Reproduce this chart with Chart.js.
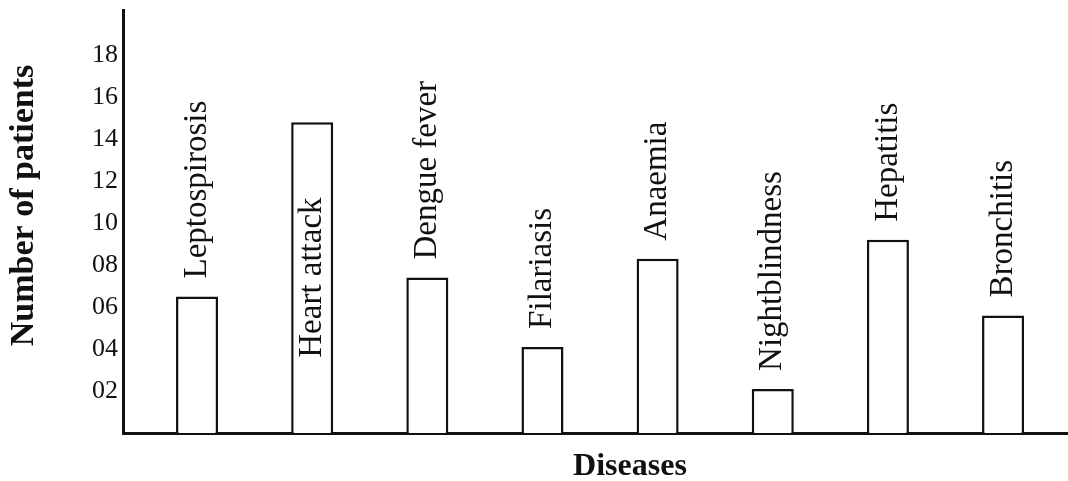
<!DOCTYPE html>
<html><head><meta charset="utf-8">
<script src="https://cdn.jsdelivr.net/npm/chart.js@4/dist/chart.umd.min.js"></script>
<style>html,body{margin:0;padding:0;background:#fff}#wrap{width:1068px;height:481px}</style>
</head><body><div id="wrap"><canvas id="c" width="1068" height="481"></canvas></div>
<script>
const diseases = ['Leptospirosis','Heart attack','Dengue fever','Filariasis','Anaemia','Nightblindness','Hepatitis','Bronchitis'];
const patients = [6.5, 14.8, 7.4, 4.1, 8.3, 2.1, 9.2, 5.6];
const yTickValues = [2, 4, 6, 8, 10, 12, 14, 16, 18];
const yTitle = 'Number of patients';
const xTitle = 'Diseases';

const serif = '"Liberation Serif", "Times New Roman", serif';
const ink = '#111';

const labelPlugin = {
  id: 'barLabels',
  afterDatasetsDraw(chart) {
    const ctx = chart.ctx, area = chart.chartArea;
    const meta = chart.getDatasetMeta(0);
    ctx.save();
    ctx.fillStyle = ink;
    ctx.font = '33px ' + serif;
    ctx.textBaseline = 'middle';
    ctx.textAlign = 'left';
    meta.data.forEach((bar, i) => {
      const text = diseases[i];
      const w = ctx.measureText(text).width;
      let start = bar.y - 18;
      if (start - w < area.top) start = (bar.y + bar.base) / 2 + w / 2;
      ctx.save();
      ctx.translate(bar.x, start);
      ctx.rotate(-Math.PI / 2);
      ctx.fillText(text, 0, 0);
      ctx.restore();
    });
    // axis titles
    ctx.font = 'bold 34px ' + serif;
    ctx.textAlign = 'center';
    ctx.textBaseline = 'middle';
    ctx.save();
    ctx.translate(24, (area.top + area.bottom) / 2 - 16);
    ctx.rotate(-Math.PI / 2);
    ctx.fillText(yTitle, 0, 0);
    ctx.restore();
    ctx.font = 'bold 32px ' + serif;
    ctx.textBaseline = 'alphabetic';
    ctx.fillText(xTitle, area.left + 507, area.bottom + 42);
    ctx.restore();
  }
};

new Chart(document.getElementById('c'), {
  type: 'bar',
  data: {
    datasets: [{
      label: yTitle,
      data: diseases.map((d, i) => ({ x: i, y: patients[i] })),
      backgroundColor: '#ffffff',
      borderColor: ink,
      borderWidth: 2.5,
      barPercentage: 0.365,
      categoryPercentage: 1
    }]
  },
  options: {
    responsive: false,
    animation: false,
    devicePixelRatio: 1,
    layout: { padding: { top: 10, left: 0, right: 0, bottom: 0 } },
    plugins: { legend: { display: false }, tooltip: { enabled: false } },
    scales: {
      x: {
        type: 'linear',
        offset: false,
        min: -0.643,
        max: 7.564,
        grid: { display: false, drawTicks: false, offset: false },
        afterBuildTicks: s => { s.ticks = diseases.map((d, i) => ({ value: i })); },
        ticks: { display: false },
        border: { display: true, color: ink, width: 3 },
        afterFit: s => { s.height = 48; s.paddingLeft = 0; s.paddingRight = 0; }
      },
      y: {
        min: 0,
        max: 20.14,
        grid: { display: false, drawTicks: false },
        border: { display: true, color: ink, width: 3 },
        afterBuildTicks: s => { s.ticks = yTickValues.map(v => ({ value: v })); },
        ticks: {
          padding: 5,
          color: ink,
          font: { family: serif, size: 26 },
          callback: v => String(v).padStart(2, '0')
        },
        afterFit: s => { s.width = 123; s.paddingTop = 0; s.paddingBottom = 0; }
      }
    }
  },
  plugins: [labelPlugin]
});
</script>
</body></html>
